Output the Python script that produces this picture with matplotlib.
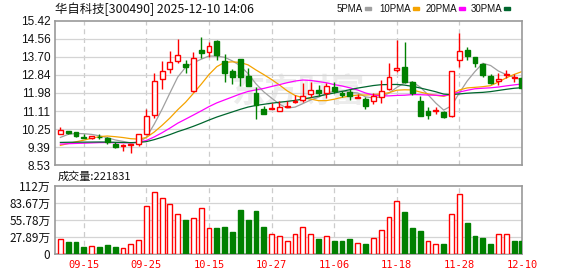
import numpy as np
import pandas as pd
import matplotlib
matplotlib.use('Agg')
import matplotlib.pyplot as plt

plt.rcParams['font.family'] = ['Noto Sans CJK SC', 'DejaVu Sans']

# daily candles
opens = [10.00, 10.16, 10.09, 9.87, 9.82, 9.89, 9.84, 9.55, 9.42, 9.50,
         9.53, 10.00, 10.92, 12.63, 13.11, 13.49, 13.36, 12.07, 14.03, 13.92,
         14.48, 13.49, 13.03, 13.60, 12.80, 11.99, 11.21, 11.19, 11.13, 11.32,
         11.53, 11.64, 11.93, 12.12, 11.96, 12.28, 11.96, 12.04, 11.73, 11.70,
         11.58, 11.80, 12.15, 13.08, 13.22, 12.52, 11.59, 11.13, 11.11, 11.07,
         10.86, 13.55, 14.03, 13.68, 13.36, 12.79, 12.57, 12.85, 12.71, 12.69]
highs = [10.35, 10.16, 10.09, 10.01, 9.93, 10.00, 9.89, 9.63, 9.53, 9.55,
         10.00, 11.21, 12.92, 13.52, 13.98, 14.56, 13.55, 13.94, 14.67, 14.40,
         14.51, 13.84, 13.12, 13.62, 13.19, 12.25, 11.35, 11.51, 11.58, 11.59,
         11.86, 12.47, 12.50, 12.36, 12.44, 12.52, 12.09, 12.18, 11.93, 11.80,
         11.96, 12.60, 13.43, 14.51, 14.43, 12.57, 11.83, 11.29, 11.29, 11.13,
         13.01, 14.86, 14.16, 13.71, 13.39, 12.87, 12.95, 13.08, 12.88, 12.76]
lows = [10.00, 10.00, 9.85, 9.84, 9.77, 9.77, 9.52, 9.36, 9.22, 9.12,
        9.44, 10.00, 10.80, 12.17, 12.92, 13.43, 12.95, 12.04, 13.67, 13.68,
        13.55, 12.52, 12.41, 12.31, 12.29, 10.71, 10.99, 11.19, 11.10, 11.32,
        11.48, 11.54, 11.77, 11.83, 11.75, 11.99, 11.80, 11.64, 11.73, 11.23,
        11.45, 11.48, 12.12, 12.98, 12.47, 11.88, 10.89, 10.72, 10.95, 10.79,
        10.81, 13.24, 13.55, 13.24, 12.73, 12.41, 12.34, 12.68, 12.52, 12.17]
closes = [10.20, 10.07, 9.93, 9.84, 9.93, 9.86, 9.63, 9.39, 9.49, 9.55,
          10.00, 10.86, 12.53, 13.04, 13.44, 13.81, 13.20, 13.63, 13.87, 14.21,
          13.78, 12.92, 12.76, 12.73, 12.29, 11.38, 10.99, 11.26, 11.29, 11.35,
          11.61, 11.83, 12.12, 11.96, 12.31, 12.05, 11.90, 11.83, 11.80, 11.37,
          11.83, 12.09, 12.76, 13.15, 12.50, 11.99, 10.89, 10.92, 11.15, 10.84,
          13.01, 13.97, 13.76, 13.43, 12.82, 12.47, 12.65, 12.90, 12.76, 12.23]

# closes before the window, estimated from where the MA lines start
prev_closes = [9.85, 9.80, 9.78, 9.82, 9.75, 9.70, 9.76, 9.72, 9.78, 9.74,
               9.70, 9.66, 9.62, 9.65, 9.58, 9.55, 9.60, 9.52, 9.55, 9.47,
               9.20, 9.10, 9.05, 9.02, 9.08, 9.34, 9.71, 9.90, 10.10]

# volume in 万 shares
volumes = [24.5, 20.1, 20.1, 12.0, 13.1, 12.0, 14.7, 12.0, 9.8, 16.9,
           22.9, 78.9, 102.9, 93.1, 82.2, 66.9, 56.1, 58.8, 76.7, 42.4,
           43.0, 44.6, 36.5, 72.4, 56.1, 70.7, 44.6, 32.7, 29.4, 21.2,
           32.7, 44.1, 32.7, 25.0, 29.4, 21.8, 21.8, 25.0, 18.0, 16.9,
           26.1, 39.2, 62.0, 88.2, 69.1, 43.0, 38.1, 21.8, 16.3, 16.9,
           65.8, 99.6, 51.2, 29.9, 26.7, 16.9, 32.7, 32.7, 21.8, 22.2]
vol_up = [1, 0, 0, 0, 1, 0, 0, 0, 1, 1,
          1, 1, 1, 1, 1, 1, 0, 1, 1, 1,
          0, 0, 0, 0, 0, 0, 0, 1, 1, 1,
          1, 1, 1, 0, 1, 0, 0, 0, 1, 0,
          1, 1, 1, 1, 0, 0, 0, 1, 1, 0,
          1, 1, 0, 0, 0, 0, 1, 1, 0, 0]

date_pos = [3, 11, 19, 27, 35, 43, 51, 59]
date_labels = ['09-15', '09-25', '10-15', '10-27', '11-06', '11-18', '11-28', '12-10']

price_ticks = [8.53, 9.39, 10.25, 11.11, 11.98, 12.84, 13.70, 14.56, 15.42]
vol_ticks = [0, 27.89, 55.78, 83.67, 111.56]
vol_tick_labels = ['0', '27.89万', '55.78万', '83.67万', '112万']

ma_periods = [5, 10, 20, 30]
ma_colors = ['#a0a0a0', '#f5a300', '#ff00ff', '#00662e']

RED = '#ff0000'
GREEN = '#008000'
FRAME = '#999999'
GRID = '#d4d4d4'

n = len(closes)
x = np.arange(n)
all_close = pd.Series(prev_closes + closes)

fig = plt.figure(figsize=(5.78, 2.76), dpi=100)
ax = fig.add_axes([55.3 / 578, 1 - 165 / 276, 467 / 578, 144 / 276])
axv = fig.add_axes([55.3 / 578, 1 - 254.3 / 276, 467 / 578, 68 / 276])

for a in (ax, axv):
    a.set_xlim(-0.65, n - 0.95)
    for s in a.spines.values():
        s.set_color(FRAME)
        s.set_linewidth(1.2)
    a.tick_params(length=0, labelsize=8, colors='#111111')
    for p in date_pos:
        a.axvline(p, color='#cccccc', lw=0.9, ls=(0, (4, 3)), zorder=0)

# watermark
ax.text(0.52, 0.5, '东方财富', transform=ax.transAxes, fontsize=24, color='#ececec',
        ha='center', va='center', fontweight='bold', zorder=0)

# price panel
ax.set_ylim(price_ticks[0], price_ticks[-1])
ax.set_yticks(price_ticks)
ax.set_yticklabels(['%.2f' % t for t in price_ticks], family='Liberation Sans', fontsize=8.5)
for t in price_ticks[1:-1]:
    ax.axhline(t, color=GRID, lw=0.9, zorder=0)
ax.set_xticks([])

for p, c in zip(ma_periods, ma_colors):
    ma = all_close.rolling(p).mean().values[len(prev_closes):]
    ax.plot(x, ma, color=c, lw=0.9, zorder=2)

w = 0.62
for i in range(n):
    o, h, l, c = opens[i], highs[i], lows[i], closes[i]
    up = c >= o
    col = RED if up else GREEN
    ax.vlines(x[i], l, h, color=col, lw=1, zorder=3)
    body = max(abs(c - o), 0.015)
    ax.bar(x[i], body, bottom=min(o, c), width=w,
           facecolor='white' if up else GREEN, edgecolor=col, linewidth=1, zorder=4)

# volume panel
axv.set_ylim(0, vol_ticks[-1])
axv.set_yticks(vol_ticks)
axv.set_yticklabels(vol_tick_labels, fontsize=8.5)
for t in vol_ticks[1:-1]:
    axv.axhline(t, color=GRID, lw=0.9, zorder=0)
face = ['white' if u else GREEN for u in vol_up]
edge = [RED if u else GREEN for u in vol_up]
axv.bar(x, volumes, width=0.62, color=face, edgecolor=edge, linewidth=1, zorder=3)
axv.set_xticks(date_pos)
axv.set_xticklabels(date_labels, color=RED, family='DejaVu Sans Mono', fontsize=7.5)
axv.tick_params(axis='x', pad=4, colors=RED)

# header texts
fig.text(55 / 578, 1 - 9 / 276, '华自科技[300490] 2025-12-10 14:06', fontsize=8.9,
         va='center', ha='left', color='#111111')
marker_x = [365, 413, 459, 504]
for mx, p, c in zip(marker_x, ma_periods, ma_colors):
    fig.text((mx - 2) / 578, 1 - 9 / 276, '%dPMA' % p, fontsize=7, va='center',
             ha='right', color='#111111', family='Liberation Sans')
    fig.patches.append(plt.Rectangle((mx / 578, 1 - 10 / 276), 6 / 578, 3 / 276,
                                     transform=fig.transFigure, color=c))
fig.text(58 / 578, 1 - 177 / 276, '成交量:221831', fontsize=8, va='center', ha='left',
         color='#111111')

fig.savefig('out.png', dpi=100)
